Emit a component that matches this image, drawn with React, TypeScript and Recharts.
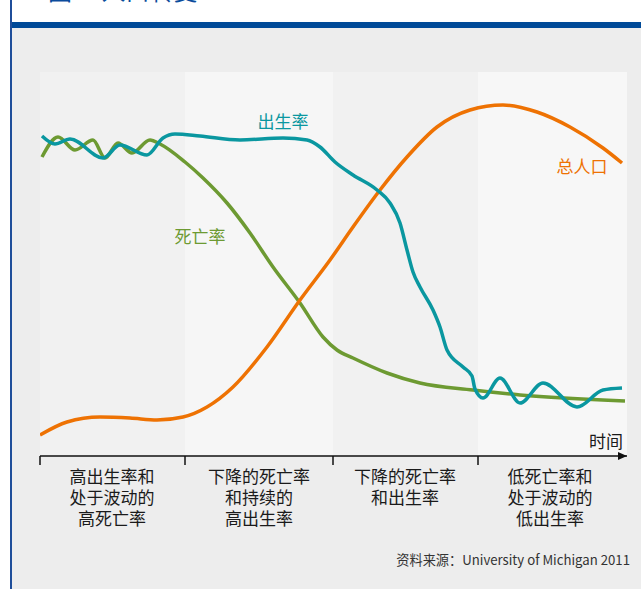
import React from 'react';
import {
    ComposedChart, Line, XAxis, YAxis, ReferenceArea, ReferenceDot
} from 'recharts';

// x = time along the axis, y = level (both in the chart's own units)
const birthRate = [
    [2, 320], [15, 312], [30, 317], [63, 298], [80, 311], [107, 301], [123, 318], [135, 322],
    [160, 320], [200, 316], [243, 318], [267, 316], [280, 309], [295, 294], [313, 281],
    [337, 266], [350, 253], [360, 233], [367, 206], [373, 184], [380, 169], [393, 146],
    [400, 129], [407, 106], [423, 89], [432, 80], [435, 67], [443, 58], [460, 78],
    [480, 53], [503, 73], [537, 49], [563, 66], [582, 68],
];
const deathRate = [
    [2, 299], [18, 319], [35, 306], [53, 316], [65, 298], [78, 313], [92, 303], [110, 316],
    [120, 312], [145, 294], [163, 278], [187, 253], [210, 223], [233, 189], [260, 153],
    [283, 119], [297, 106], [313, 98], [347, 83], [380, 73], [433, 66], [480, 61], [585, 55],
];
const population = [
    [0, 21], [27, 34], [60, 39], [90, 38], [117, 36], [143, 39], [167, 49], [193, 69],
    [227, 109], [260, 156], [290, 196], [313, 229], [340, 266], [367, 299], [397, 329],
    [430, 346], [463, 351], [497, 344], [530, 329], [563, 308], [582, 293],
];

const stageBounds = [0, 145, 293, 438, 587];
const stageMids = [72, 219, 365, 510];
const stageLabels = [
    ['高出生率和', '处于波动的', '高死亡率'],
    ['下降的死亡率', '和持续的', '高出生率'],
    ['下降的死亡率', '和出生率'],
    ['低死亡率和', '处于波动的', '低出生率'],
];
const seriesLabels = [
    { text: '出生率', x: 243, y: 334, color: '#0A97A0' },
    { text: '死亡率', x: 160, y: 219, color: '#6D9A32' },
    { text: '总人口', x: 542, y: 289, color: '#EE7203' },
];

const BAND_FILLS = ['#F1F1F1', '#F6F6F6', '#F1F1F1', '#F7F7F7'];
const FONT = '"Noto Sans CJK SC", "Noto Sans", sans-serif';
const TEAL = '#0A97A0';
const GREEN = '#6D9A32';
const ORANGE = '#EE7203';

const toPts = (arr: number[][]) => arr.map(([t, v]) => ({ t, v }));
const axisTicks = [...stageBounds.slice(0, 4), ...stageMids].sort((a, b) => a - b);

// boundary ticks get a short line, mid ticks get the stage description
function StageTick(props: any) {
    const { x, y, payload } = props;
    const v = payload.value;
    const bi = stageBounds.indexOf(v);
    if (bi >= 0) {
        return <line x1={x} y1={y} x2={x} y2={y + 9} stroke="#111" strokeWidth={1.5} />;
    }
    const lines = stageLabels[stageMids.indexOf(v)] || [];
    return (
        <text x={x} y={y} textAnchor="middle" fontFamily={FONT} fontSize={17} fill="#1a1a1a">
            {lines.map((l, i) => (
                <tspan key={i} x={x} dy={i === 0 ? 27 : 21}>{l}</tspan>
            ))}
        </text>
    );
}

export default function App() {
    return (
        <div style={{ position: 'absolute', left: 0, top: 0, width: 641, height: 589, overflow: 'hidden', background: '#fff', fontFamily: FONT }}>
            {/* clipped title + header rule */}
            <div style={{ position: 'absolute', left: 48, top: -22, fontSize: 24, lineHeight: '24px', color: '#0B4C9C', whiteSpace: 'nowrap' }}>图一  人口转变</div>
            <div style={{ position: 'absolute', left: 11, top: 22, width: 630, height: 6, background: '#004A98' }} />
            <div style={{ position: 'absolute', left: 12, top: 28, width: 629, height: 561, background: '#EDEDED' }} />
            <div style={{ position: 'absolute', left: 10, top: 0, width: 1.5, height: 589, background: '#1F4E9A' }} />

            <div style={{ position: 'absolute', left: 0, top: 0 }}>
                <ComposedChart width={641} height={589} margin={{ top: 72, right: 14, bottom: 0, left: 40 }}>
                    <XAxis
                        xAxisId="stage" type="number" dataKey="t" domain={[0, 587]}
                        ticks={axisTicks} interval={0} allowDataOverflow
                        tick={<StageTick />} tickSize={0} tickMargin={0} tickLine={false} height={133}
                        axisLine={{ stroke: '#111', strokeWidth: 1.5 }}
                    />
                    <YAxis hide type="number" domain={[0, 384]} />
                    {BAND_FILLS.map((f, i) => (
                        <ReferenceArea key={i} xAxisId="stage" x1={stageBounds[i]} x2={stageBounds[i + 1]} y1={0} y2={384}
                            fill={f} fillOpacity={1} stroke="none" />
                    ))}
                    <Line xAxisId="stage" data={toPts(deathRate)} dataKey="v" type="monotone" stroke={GREEN} strokeWidth={3.5} dot={false} isAnimationActive={false} />
                    <Line xAxisId="stage" data={toPts(population)} dataKey="v" type="monotone" stroke={ORANGE} strokeWidth={3.5} dot={false} isAnimationActive={false} />
                    <Line xAxisId="stage" data={toPts(birthRate)} dataKey="v" type="monotone" stroke={TEAL} strokeWidth={3.5} dot={false} isAnimationActive={false} />
                    {seriesLabels.map(s => (
                        <ReferenceDot key={s.text} xAxisId="stage" x={s.x} y={s.y} r={0} ifOverflow="visible"
                            shape={(p: any) => (
                                <text x={p.cx} y={p.cy + 6} textAnchor="middle" fontFamily={FONT} fontSize={17} fill={s.color}>{s.text}</text>
                            )} />
                    ))}
                    <ReferenceDot xAxisId="stage" x={587} y={0} r={0} ifOverflow="visible"
                        shape={(p: any) => (
                            <polygon points={`${p.cx},${p.cy} ${p.cx - 9},${p.cy - 4} ${p.cx - 9},${p.cy + 4}`} fill="#111" />
                        )} />
                </ComposedChart>
            </div>

            <div style={{ position: 'absolute', right: 18, top: 428, fontSize: 17, color: '#1a1a1a' }}>时间</div>
            <div style={{ position: 'absolute', right: 11, top: 550, fontSize: 13.2, color: '#333', whiteSpace: 'nowrap' }}>资料来源：University of Michigan 2011</div>
        </div>
    );
}
